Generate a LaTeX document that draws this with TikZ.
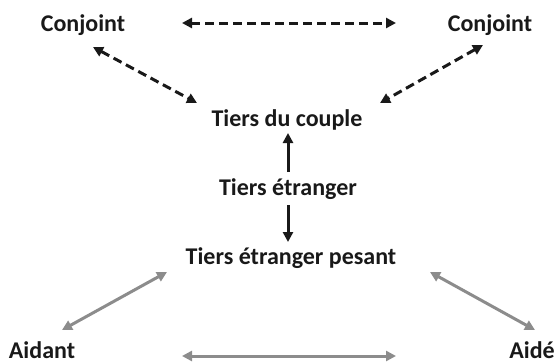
\documentclass[tikz,border=0pt]{standalone}
\usepackage{fontspec}
\setmainfont{Carlito}
\usetikzlibrary{arrows.meta}
\begin{document}
\begin{tikzpicture}[x=1pt,y=-1pt,
  lbl/.style={font=\bfseries\fontsize{24}{28}\selectfont, inner sep=0pt, text=black!90, anchor=base},
  dsh/.style={line width=3pt, dash pattern=on 9pt off 5pt, black!90, {Triangle[length=10pt,width=10pt]}-{Triangle[length=10pt,width=10pt]}},
  sol/.style={line width=3pt, black!90, -{Triangle[length=10pt,width=10pt]}},
  gry/.style={line width=3pt, black!45, {Triangle[length=10pt,width=10pt]}-{Triangle[length=10pt,width=10pt]}}]
\useasboundingbox (0,0) rectangle (558,364);
\node[lbl] (cl) at (83,31) {Conjoint};
\node[lbl] (cr) at (490,31) {Conjoint};
\node[lbl] (tc) at (287,126) {Tiers du couple};
\node[lbl] (te) at (288,195) {Tiers étranger};
\node[lbl] (tp) at (291,264) {Tiers étranger pesant};
\node[lbl] (ai) at (42,358) {Aidant};
\node[lbl] (ad) at (532,358) {Aidé};
% arrow end points
\coordinate (c1) at (182,23); \coordinate (c2) at (396,23);
\coordinate (l1) at (93,47); \coordinate (l2) at (197,103);
\coordinate (r1) at (483,45); \coordinate (r2) at (380,103);
\coordinate (u1) at (288,172); \coordinate (u2) at (288,133);
\coordinate (d1) at (288,205); \coordinate (d2) at (288,242);
\coordinate (g1) at (62,330); \coordinate (g2) at (167,272);
\coordinate (h1) at (430,272); \coordinate (h2) at (535,330);
\coordinate (b1) at (182,356); \coordinate (b2) at (396,356);
\draw[dsh] (c1) -- (c2);
\draw[dsh] (l1) -- (l2);
\draw[dsh] (r1) -- (r2);
\draw[sol] (u1) -- (u2);
\draw[sol] (d1) -- (d2);
\draw[gry] (g1) -- (g2);
\draw[gry] (h1) -- (h2);
\draw[gry] (b1) -- (b2);
\end{tikzpicture}
\end{document}
